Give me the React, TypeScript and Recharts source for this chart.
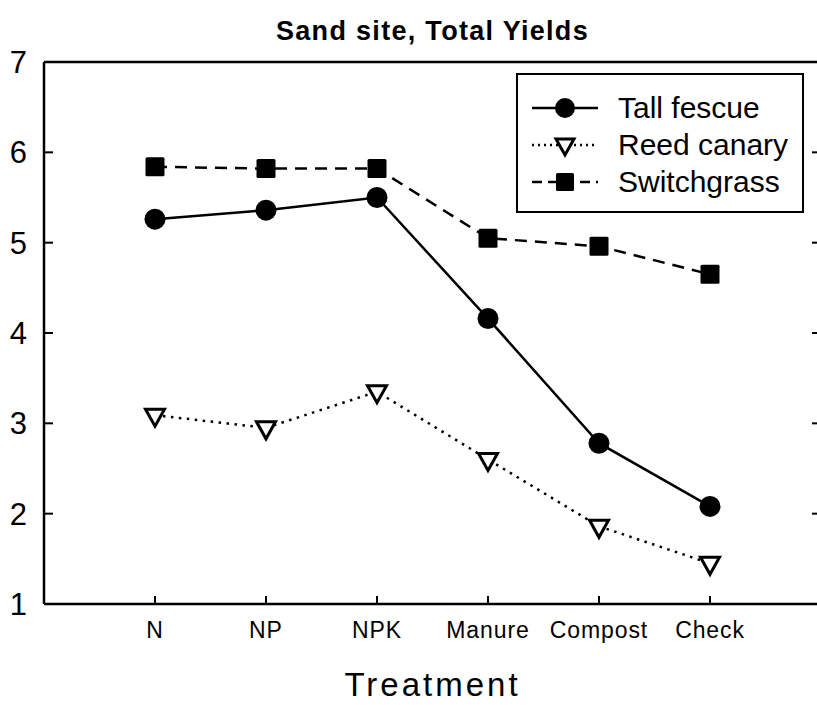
import { LineChart, Line, XAxis, YAxis, ReferenceLine } from 'recharts';

const treatments = ['N', 'NP', 'NPK', 'Manure', 'Compost', 'Check'];
const positions = [1, 2, 3, 4, 5, 6];
const tallFescue = [5.26, 5.36, 5.5, 4.16, 2.78, 2.08];
const reedCanary = [3.09, 2.95, 3.35, 2.6, 1.86, 1.45];
const switchgrass = [5.84, 5.82, 5.82, 5.05, 4.96, 4.65];
const yTicks = [1, 2, 3, 4, 5, 6, 7];

const FONT = '"Liberation Sans", Arial, sans-serif';

const data = positions.map((x, i) => ({
    x,
    name: treatments[i],
    tall: tallFescue[i],
    reed: reedCanary[i],
    sw: switchgrass[i],
}));

// markers
const CircleDot = (p: any) => <circle key={p.index} cx={p.cx} cy={p.cy} r={10.5} fill="#000" />;
const SquareDot = (p: any) => (
    <rect key={p.index} x={p.cx - 9.5} y={p.cy - 9.5} width={19} height={19} rx={1.5} fill="#000" />
);
const TriDot = (p: any) => (
    <polygon
        key={p.index}
        points={`${p.cx - 9.5},${p.cy - 6} ${p.cx + 9.5},${p.cy - 6} ${p.cx},${p.cy + 11}`}
        fill="#fff"
        stroke="#000"
        strokeWidth={3}
        strokeLinejoin="miter"
    />
);

const legendRows = [
    { label: 'Tall fescue', dash: undefined, marker: 'circle' },
    { label: 'Reed canary', dash: '2 4', marker: 'tri' },
    { label: 'Switchgrass', dash: '10 6', marker: 'square' },
];

function LegendBox() {
    return (
        <div
            style={{
                position: 'absolute',
                left: 516,
                top: 73,
                width: 284,
                height: 136,
                border: '2.5px solid #000',
                fontFamily: FONT,
                fontSize: 30,
                color: '#000',
            }}
        >
            {legendRows.map((r, i) => (
                <div key={r.label} style={{ position: 'absolute', left: 0, top: 16 + i * 37, height: 34, display: 'flex', alignItems: 'center' }}>
                    <svg width={100} height={34} style={{ display: 'block' }}>
                        <line x1={14} x2={80} y1={17} y2={17} stroke="#000" strokeWidth={2.5} strokeDasharray={r.dash} />
                        {r.marker === 'circle' && <circle cx={47} cy={17} r={10} fill="#000" />}
                        {r.marker === 'square' && <rect x={38} y={8} width={18} height={18} rx={1.5} fill="#000" />}
                        {r.marker === 'tri' && (
                            <polygon points="38,11 56,11 47,27" fill="#fff" stroke="#000" strokeWidth={3} />
                        )}
                    </svg>
                    <span style={{ lineHeight: '34px' }}>{r.label}</span>
                </div>
            ))}
        </div>
    );
}

export default function App() {
    return (
        <div style={{ position: 'absolute', left: 0, top: 0, width: 817, height: 705, background: '#fff', overflow: 'hidden' }}>
            <div
                style={{
                    position: 'absolute',
                    left: 0,
                    width: 865,
                    top: 15,
                    textAlign: 'center',
                    fontFamily: FONT,
                    fontWeight: 'bold',
                    fontSize: 27,
                    letterSpacing: 1.3,
                    color: '#000',
                    lineHeight: '32px',
                }}
            >
                Sand site, Total Yields
            </div>
            <LineChart width={817} height={705} data={data} margin={{ top: 62, right: -5, left: 0, bottom: 0 }}>
                <XAxis
                    type="number"
                    dataKey="x"
                    domain={[0, 7]}
                    ticks={positions}
                    tickFormatter={(v: number) => treatments[v - 1]}
                    height={101}
                    tickSize={-8}
                    tickMargin={26}
                    axisLine={{ stroke: '#000', strokeWidth: 2.5 }}
                    tickLine={{ stroke: '#000', strokeWidth: 2 }}
                    tick={{ fill: '#000', fontSize: 23, fontFamily: FONT, letterSpacing: 0.9 } as any}
                    label={{
                        value: 'Treatment',
                        position: 'insideBottom',
                        offset: 9,
                        fill: '#000',
                        fontSize: 33,
                        fontFamily: FONT,
                        letterSpacing: 3,
                    } as any}
                    allowDataOverflow
                />
                <YAxis
                    yAxisId="left"
                    domain={[1, 7]}
                    ticks={yTicks}
                    width={44}
                    tickSize={-9}
                    tickMargin={26}
                    axisLine={{ stroke: '#000', strokeWidth: 2.5 }}
                    tickLine={{ stroke: '#000', strokeWidth: 2 }}
                    tick={{ fill: '#000', fontSize: 31, fontFamily: FONT }}
                    allowDataOverflow
                />
                <YAxis
                    yAxisId="right"
                    orientation="right"
                    domain={[1, 7]}
                    ticks={yTicks}
                    width={1}
                    tickSize={-9}
                    tickFormatter={() => ''}
                    axisLine={{ stroke: '#000', strokeWidth: 2.5 }}
                    tickLine={{ stroke: '#000', strokeWidth: 2 }}
                    allowDataOverflow
                />
                <ReferenceLine yAxisId="left" y={7} stroke="#000" strokeWidth={2.5} />
                <Line
                    yAxisId="left"
                    dataKey="tall"
                    name="Tall fescue"
                    stroke="#000"
                    strokeWidth={2.5}
                    dot={CircleDot}
                    isAnimationActive={false}
                />
                <Line
                    yAxisId="left"
                    dataKey="reed"
                    name="Reed canary"
                    stroke="#000"
                    strokeWidth={2.5}
                    strokeDasharray="2.5 5.5"
                    dot={TriDot}
                    isAnimationActive={false}
                />
                <Line
                    yAxisId="left"
                    dataKey="sw"
                    name="Switchgrass"
                    stroke="#000"
                    strokeWidth={2.5}
                    strokeDasharray="12 8"
                    dot={SquareDot}
                    isAnimationActive={false}
                />
            </LineChart>
            <LegendBox />
        </div>
    );
}
